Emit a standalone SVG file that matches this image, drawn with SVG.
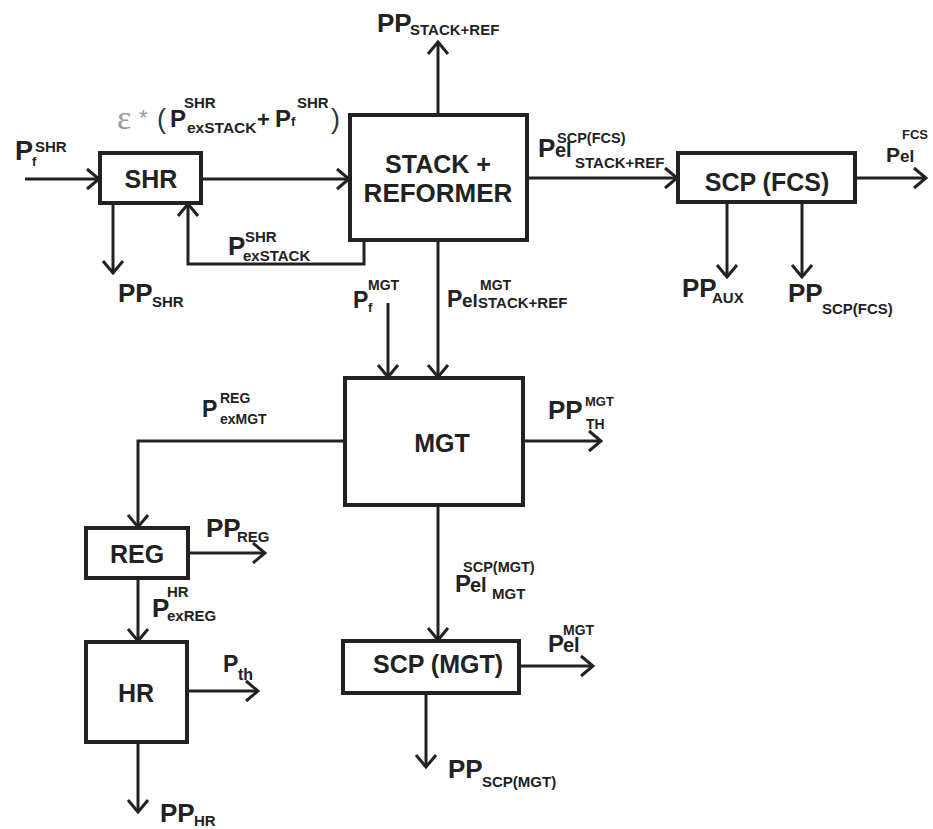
<svg xmlns="http://www.w3.org/2000/svg" width="933" height="829" viewBox="0 0 933 829">
<style>
.bx{fill:#fff;stroke:#222;stroke-width:4}
.ln{fill:none;stroke:#222;stroke-width:3;marker-end:url(#ar)}
text{font-family:"Liberation Sans",Arial,sans-serif;font-weight:bold;fill:#222}
.b{font-size:25px;text-anchor:middle}
.m{font-size:26px}
.p{font-size:23px}
.s{font-size:15px}
.e{font-size:20px}
.g{fill:#999;font-weight:normal}
</style>
<defs>
<marker id="ar" markerUnits="userSpaceOnUse" viewBox="0 0 16 24" refX="14" refY="12" markerWidth="16" markerHeight="24" orient="auto">
<path d="M2,2 L14,12 L2,22" fill="none" stroke="#222" stroke-width="3"/>
</marker>
</defs>
<g id="connectors">
<path class="ln" d="M25,179 H99"/>
<path class="ln" d="M201,179 H349"/>
<path class="ln" d="M438,115 V42"/>
<path class="ln" d="M364,240 V264 H188 V204"/>
<path class="ln" d="M113,203 V273"/>
<path class="ln" d="M527,178 H677"/>
<path class="ln" d="M855,178 H926"/>
<path class="ln" d="M727,202 V277"/>
<path class="ln" d="M802,202 V277"/>
<path class="ln" d="M438,240 V377"/>
<path class="ln" d="M388,303 V377"/>
<path class="ln" d="M523,441 H601"/>
<path class="ln" d="M345,441 H138 V527"/>
<path class="ln" d="M188,553 H265"/>
<path class="ln" d="M138,578 V641"/>
<path class="ln" d="M187,691 H258"/>
<path class="ln" d="M138,742 V812"/>
<path class="ln" d="M438,505 V640"/>
<path class="ln" d="M519,666 H593"/>
<path class="ln" d="M426,693 V767"/>
</g>
<g id="shr"><rect class="bx" x="100" y="153" width="101" height="50"/><text class="b" x="151" y="188">SHR</text></g>
<g id="stack"><rect class="bx" x="350" y="115" width="177" height="125"/><text class="b" x="438" y="173">STACK +</text><text class="b" x="438" y="202" style="font-size:26px">REFORMER</text></g>
<g id="scpfcs"><rect class="bx" x="678" y="153" width="177" height="49"/><text class="b" x="767" y="191">SCP (FCS)</text></g>
<g id="mgt"><rect class="bx" x="345" y="378" width="178" height="127"/><text class="b" x="442" y="452">MGT</text></g>
<g id="reg"><rect class="bx" x="86" y="528" width="102" height="50"/><text class="b" x="137" y="563">REG</text></g>
<g id="hr"><rect class="bx" x="86" y="642" width="101" height="100"/><text class="b" x="136" y="702">HR</text></g>
<g id="scpmgt"><rect class="bx" x="343" y="641" width="176" height="52"/><text class="b" x="438" y="673">SCP (MGT)</text></g>
<g id="labels">
<text class="m" x="15" y="160" style="font-size:27px">P</text><text class="s" x="35" y="152">SHR</text><text x="32" y="166" style="font-size:13px">f</text>
<text class="g" x="117" y="129" style="font-family:'Liberation Serif',serif;font-size:34px">ε</text>
<text class="g" x="139" y="125" style="font-size:22px">*</text>
<text x="157" y="128" style="font-size:27px;font-weight:normal;fill:#333">(</text>
<text class="p" x="170" y="127" style="font-size:24px">P</text><text class="s" x="184" y="108">SHR</text><text class="s" x="187" y="133" style="font-size:15.5px">exSTACK</text>
<text x="257" y="127" style="font-size:22px">+</text>
<text class="p" x="275" y="127" style="font-size:24px">P</text><text x="291" y="126" style="font-size:13px">f</text><text class="s" x="297" y="108">SHR</text>
<text x="331" y="128" style="font-size:27px;font-weight:normal;fill:#333">)</text>
<text class="m" x="228" y="255">P</text><text class="s" x="245" y="242">SHR</text><text class="s" x="243" y="261">exSTACK</text>
<text class="m" x="118" y="302">PP</text><text class="s" x="152" y="307">SHR</text>
<text class="m" x="377" y="32">PP</text><text class="s" x="410" y="35">STACK+REF</text>
<text class="m" x="538" y="157">P</text><text class="e" x="555" y="157">el</text><text class="s" x="557" y="143" style="font-size:14.5px">SCP(FCS)</text><text class="s" x="575" y="168">STACK+REF</text>
<text x="886" y="162" style="font-size:21px">P</text><text x="900" y="162" style="font-size:17px">el</text><text x="902" y="139" style="font-size:13px">FCS</text>
<text class="m" x="682" y="297">PP</text><text class="s" x="712" y="303">AUX</text>
<text class="m" x="788" y="302">PP</text><text class="s" x="822" y="314">SCP(FCS)</text>
<text class="p" x="353" y="308">P</text><text x="368" y="290" style="font-size:14px">MGT</text><text x="368" y="312" style="font-size:13px">f</text>
<text class="p" x="447" y="307">P</text><text x="462" y="307" style="font-size:19px">el</text><text x="480" y="290" style="font-size:14px">MGT</text><text class="s" x="478" y="308">STACK+REF</text>
<text class="p" x="202" y="417">P</text><text x="220" y="403" style="font-size:14px">REG</text><text x="220" y="424" style="font-size:14px">exMGT</text>
<text class="m" x="206" y="537">PP</text><text class="s" x="237" y="542">REG</text>
<text class="m" x="152" y="617">P</text><text class="s" x="167" y="597">HR</text><text class="s" x="167" y="621">exREG</text>
<text class="p" x="223" y="672">P</text><text x="238" y="680" style="font-size:16px">th</text>
<text class="m" x="160" y="822">PP</text><text class="s" x="194" y="826">HR</text>
<text class="m" x="548" y="419">PP</text><text x="585" y="406" style="font-size:13px">MGT</text><text x="586" y="429" style="font-size:14px">TH</text>
<text class="p" x="455" y="592" style="font-size:24px">P</text><text class="e" x="470" y="592">el</text><text class="s" x="463" y="572" style="font-size:14.5px">SCP(MGT)</text><text class="s" x="492" y="599">MGT</text>
<text class="p" x="548" y="652" style="font-size:24px">P</text><text class="e" x="563" y="652">el</text><text x="563" y="635" style="font-size:14px">MGT</text>
<text class="m" x="448" y="778">PP</text><text class="s" x="482" y="787">SCP(MGT)</text>
</g>
</svg>
